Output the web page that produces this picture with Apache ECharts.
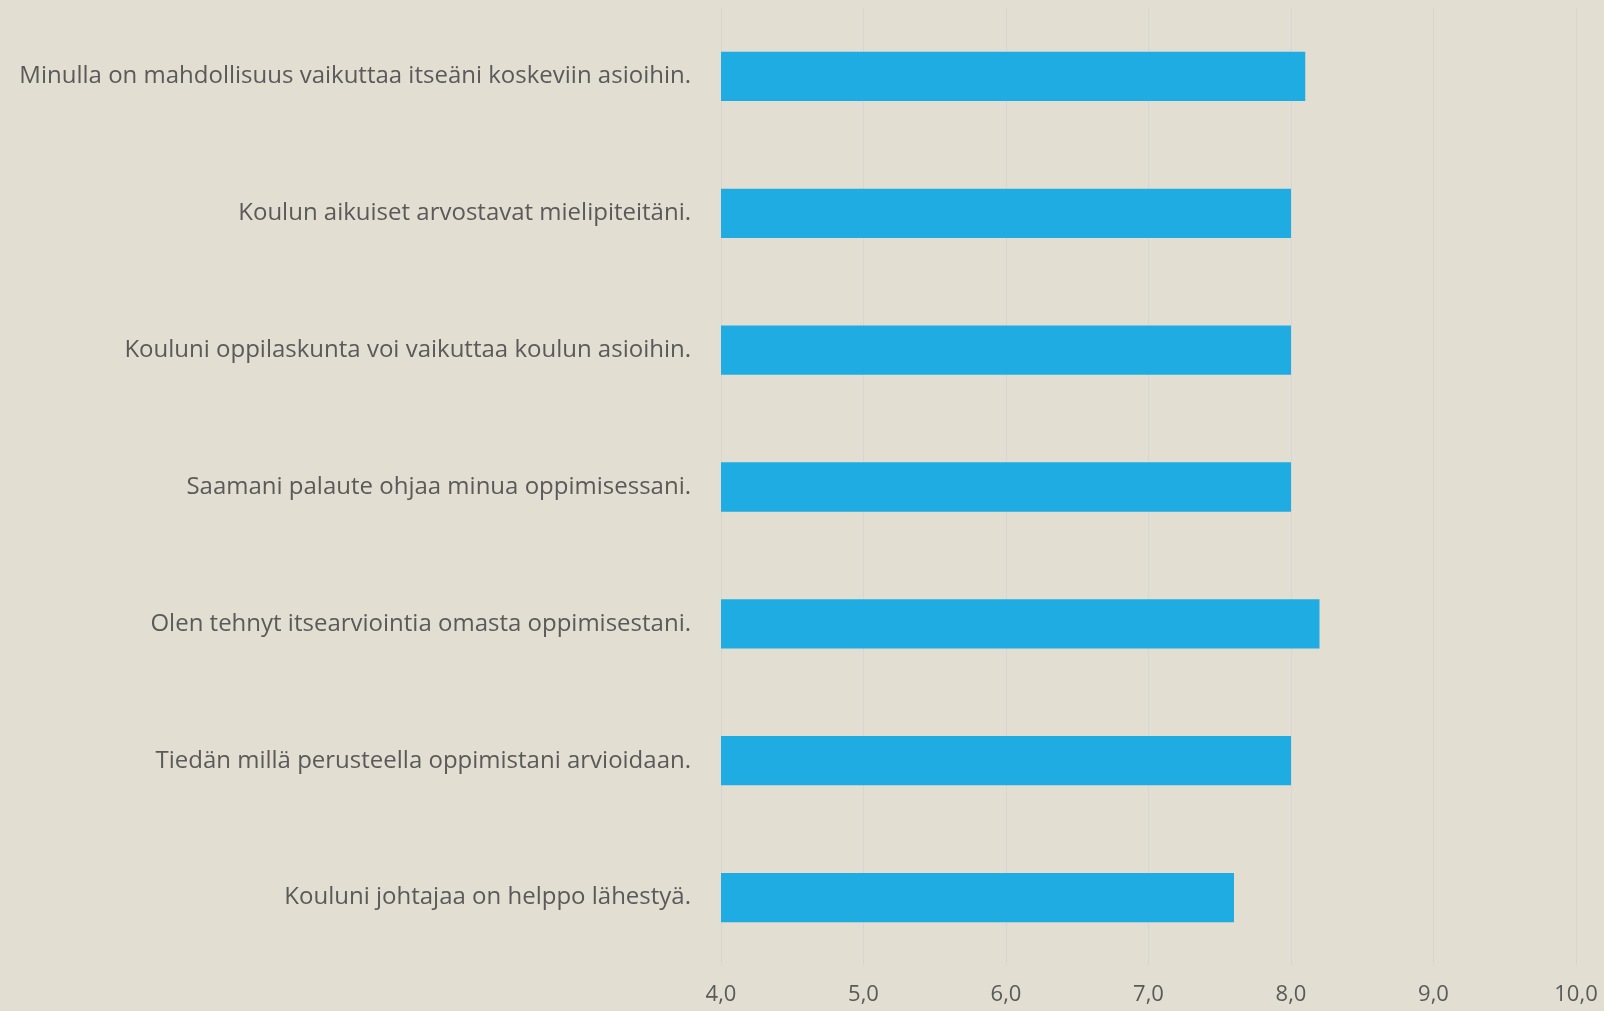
<!DOCTYPE html>
<html>
<head>
<meta charset="utf-8">
<script src="https://cdn.jsdelivr.net/npm/echarts@6/dist/echarts.min.js"></script>
<style>
  html, body { margin: 0; padding: 0; background: #e3ded2; }
  #chart { width: 1604px; height: 1011px; }
</style>
</head>
<body>
<div id="chart"></div>
<script>
// kysymykset ylhäältä alas
const categories = [
  'Minulla on mahdollisuus vaikuttaa itseäni koskeviin asioihin.',
  'Koulun aikuiset arvostavat mielipiteitäni.',
  'Kouluni oppilaskunta voi vaikuttaa koulun asioihin.',
  'Saamani palaute ohjaa minua oppimisessani.',
  'Olen tehnyt itsearviointia omasta oppimisestani.',
  'Tiedän millä perusteella oppimistani arvioidaan.',
  'Kouluni johtajaa on helppo lähestyä.'
]
const values = [8.1, 8.0, 8.0, 8.0, 8.2, 8.0, 7.6]
const axisMin = 4
const axisMax = 10
const axisStep = 1

const chart = echarts.init(document.getElementById('chart'))
chart.setOption({
  backgroundColor: '#e3ded2',
  textStyle: { fontFamily: 'Open Sans' },
  grid: {
    top: 8,
    left: 721,
    right: 28,
    bottom: 45,
    containLabel: false
  },
  xAxis: {
    type: 'value',
    min: axisMin,
    max: axisMax,
    interval: axisStep,
    axisLine: { show: false },
    axisTick: { show: false },
    axisLabel: {
      color: '#5a5a5a',
      fontSize: 22,
      margin: 18,
      fontFamily: 'Open Sans',
      formatter: function (v) {
        return v.toFixed(1).replace('.', ',')
      }
    },
    splitLine: {
      lineStyle: { color: '#d6d6d2', width: 1 }
    }
  },
  yAxis: {
    type: 'category',
    inverse: true,
    data: categories,
    axisLine: { show: false },
    axisTick: { show: false },
    axisLabel: {
      color: '#5a5a5a',
      fontSize: 24,
      margin: 30,
      fontFamily: 'Open Sans'
    }
  },
  series: [{
    type: 'bar',
    data: values,
    barWidth: '36%',
    itemStyle: { color: '#1eace2' },
    animation: false
  }]
})
</script>
</body>
</html>
